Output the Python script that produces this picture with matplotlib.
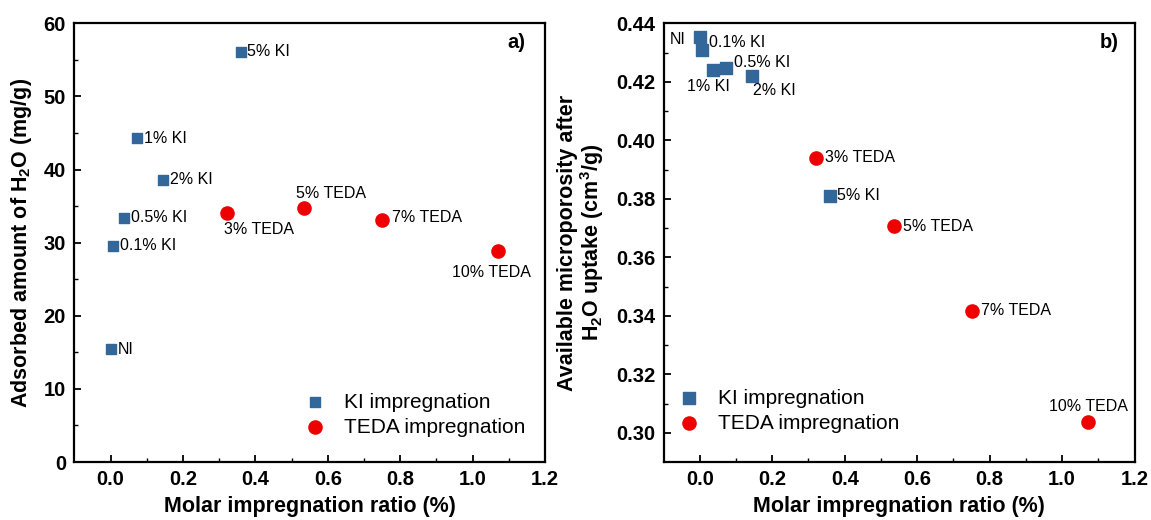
import numpy as np
import matplotlib
matplotlib.use('Agg')
import matplotlib.pyplot as plt

plt.rcParams['font.family'] = ['Liberation Sans', 'DejaVu Sans']
plt.rcParams['mathtext.fontset'] = 'custom'
plt.rcParams['mathtext.rm'] = 'Liberation Sans:bold'
plt.rcParams['mathtext.bf'] = 'Liberation Sans:bold'
plt.rcParams['mathtext.default'] = 'bf'

# ==============================================================
# DATA
# ==============================================================
ki_labels = ['NI', '0.1% KI', '0.5% KI', '1% KI', '2% KI', '5% KI']
ki_ratio_a = [0.0, 0.006, 0.037, 0.073, 0.144, 0.360]
ki_water = [15.4, 29.6, 33.4, 44.3, 38.6, 56.1]

teda_labels = ['3% TEDA', '5% TEDA', '7% TEDA', '10% TEDA']
teda_ratio_a = [0.321, 0.534, 0.749, 1.069]
teda_water = [34.1, 34.8, 33.1, 28.9]

ki_ratio_b = [0.0, 0.005, 0.036, 0.073, 0.144, 0.360]
ki_micro = [0.4353, 0.4310, 0.4240, 0.4248, 0.4219, 0.3810]

teda_ratio_b = [0.320, 0.536, 0.750, 1.072]
teda_micro = [0.3940, 0.3706, 0.3417, 0.3038]

# label offsets (points)
ki_off_a = [(5, 0), (5.5, 0), (5, 0), (5, 0), (5, 0), (4.5, 0)]
teda_off_a = [(-2.2, -12), (-5.5, 10), (7.2, 1.5), (-33, -16)]
ki_off_b = [(-10.4, -1.7), (5.3, 4.8), (15.2, 5.3), (-28.4, -13.7), (1.1, -10.6), (4.8, 0)]
teda_off_b = [(6.7, 0), (6.7, 0), (6.7, 0), (-28.5, 11.2)]
ki_ha_b = ['right', 'left', 'left', 'left', 'left', 'left']

blue = '#336699'
red = '#ee0000'

fig = plt.figure(figsize=(11.51, 5.2), dpi=100)
ax1 = fig.add_axes([0.0646, 0.1115, 0.4090, 0.8437])
ax2 = fig.add_axes([0.5765, 0.1115, 0.4092, 0.8437])


def style_axis(ax):
    for sp in ax.spines.values():
        sp.set_linewidth(1.6)
    ax.tick_params(axis='both', which='major', direction='in', length=5, width=1.3,
                   labelsize=14.5, pad=6, top=False, right=False)
    ax.tick_params(axis='both', which='minor', direction='in', length=3, width=1.0,
                   top=False, right=False)
    for lab in ax.get_xticklabels() + ax.get_yticklabels():
        lab.set_fontweight('bold')


# ---------------- panel a ----------------
ax1.scatter(ki_ratio_a, ki_water, marker='s', s=60, color=blue, label='KI impregnation', zorder=3)
ax1.scatter(teda_ratio_a, teda_water, marker='o', s=90, color=red, label='TEDA impregnation', zorder=3)
for lab, x, y, off in zip(ki_labels, ki_ratio_a, ki_water, ki_off_a):
    ax1.annotate(lab, (x, y), xytext=off, textcoords='offset points', ha='left', va='center', fontsize=11.5)
for lab, x, y, off in zip(teda_labels, teda_ratio_a, teda_water, teda_off_a):
    ax1.annotate(lab, (x, y), xytext=off, textcoords='offset points', ha='left', va='center', fontsize=11.5)

ax1.set_xlim(-0.1, 1.2)
ax1.set_ylim(0, 60)
ax1.set_xticks(np.arange(0, 1.21, 0.2))
ax1.set_xticks(np.arange(0.1, 1.2, 0.2), minor=True)
ax1.set_yticks(np.arange(0, 61, 10))
ax1.set_yticks(np.arange(5, 60, 10), minor=True)
ax1.set_xlabel('Molar impregnation ratio (%)', fontsize=15.5, fontweight='bold', labelpad=5)
ax1.set_ylabel('Adsorbed amount of H$_2$O (mg/g)', fontsize=15.5, fontweight='bold', labelpad=7)
ax1.text(0.958, 0.957, 'a)', transform=ax1.transAxes, ha='right', va='center',
         fontsize=14.5, fontweight='bold')
ax1.legend(loc='center left', bbox_to_anchor=(0.488, 0.108), frameon=False, fontsize=15,
           handlelength=1.0, handletextpad=0.93, borderpad=0, borderaxespad=0, labelspacing=0.3)
style_axis(ax1)

# ---------------- panel b ----------------
ax2.scatter(ki_ratio_b, ki_micro, marker='s', s=80, color=blue, label='KI impregnation', zorder=3)
ax2.scatter(teda_ratio_b, teda_micro, marker='o', s=90, color=red, label='TEDA impregnation', zorder=3)
for lab, x, y, off, ha in zip(ki_labels, ki_ratio_b, ki_micro, ki_off_b, ki_ha_b):
    ax2.annotate(lab, (x, y), xytext=off, textcoords='offset points', ha=ha, va='center', fontsize=11.5)
for lab, x, y, off in zip(teda_labels, teda_ratio_b, teda_micro, teda_off_b):
    ax2.annotate(lab, (x, y), xytext=off, textcoords='offset points', ha='left', va='center', fontsize=11.5)

ax2.set_xlim(-0.1, 1.2)
ax2.set_ylim(0.29, 0.44)
ax2.set_xticks(np.arange(0, 1.21, 0.2))
ax2.set_xticks(np.arange(0.1, 1.2, 0.2), minor=True)
ax2.set_yticks(np.arange(0.30, 0.441, 0.02))
ax2.set_yticks(np.arange(0.31, 0.44, 0.02), minor=True)
ax2.yaxis.set_major_formatter(matplotlib.ticker.FormatStrFormatter('%.2f'))
ax2.set_xlabel('Molar impregnation ratio (%)', fontsize=15.5, fontweight='bold', labelpad=5)
ax2.set_ylabel('Available microporosity after\nH$_2$O uptake (cm$^3$/g)', fontsize=15.5,
               fontweight='bold', labelpad=7, linespacing=1.0)
ax2.text(0.9656, 0.957, 'b)', transform=ax2.transAxes, ha='right', va='center',
         fontsize=14.5, fontweight='bold')
ax2.legend(loc='center left', bbox_to_anchor=(0.031, 0.117), frameon=False, fontsize=15,
           handlelength=1.0, handletextpad=0.92, borderpad=0, borderaxespad=0, labelspacing=0.3)
style_axis(ax2)

fig.savefig('out.png', dpi=100)
